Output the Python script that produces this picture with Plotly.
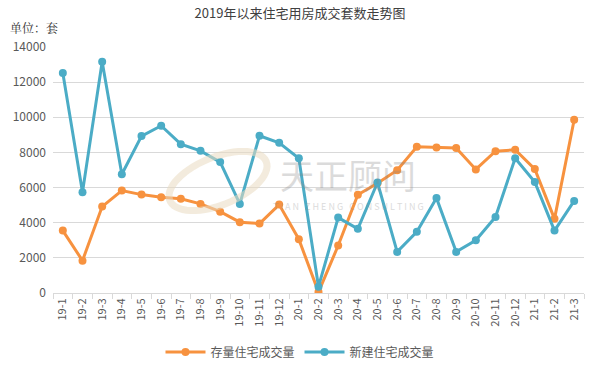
import numpy as np
import plotly.graph_objects as go

months = ["19-1","19-2","19-3","19-4","19-5","19-6","19-7","19-8","19-9","19-10","19-11","19-12",
          "20-1","20-2","20-3","20-4","20-5","20-6","20-7","20-8","20-9","20-10","20-11","20-12",
          "21-1","21-2","21-3"]
existing = [3550,1840,4920,5830,5600,5450,5360,5070,4630,4030,3950,5030,
            3060,50,2700,5590,6250,6990,8320,8280,8250,7030,8070,8150,
            7050,4220,9860]
new_build = [12520,5740,13160,6760,8930,9520,8470,8090,7450,5070,8950,8550,
             7670,360,4290,3650,6290,2340,3480,5400,2340,3000,4330,7670,
             6310,3550,5240]

ORANGE = "#F7923F"
BLUE = "#4BACC6"
FONT = "Noto Sans CJK SC"

fig = go.Figure()
fig.add_trace(go.Scatter(x=months, y=existing, name="存量住宅成交量", mode="lines+markers",
                         line=dict(color=ORANGE, width=3), marker=dict(color=ORANGE, size=8)))
fig.add_trace(go.Scatter(x=months, y=new_build, name="新建住宅成交量", mode="lines+markers",
                         line=dict(color=BLUE, width=3), marker=dict(color=BLUE, size=8)))

PW, PH, L, T = 531, 246, 53, 47
def px(x): return (x - L) / PW
def py(y): return (T + PH - y) / PH

fig.update_layout(
    width=600, height=372,
    margin=dict(l=53, r=16, t=47, b=79),
    paper_bgcolor="white", plot_bgcolor="white",
    font=dict(family=FONT, color="#595959", size=12),
    title=dict(text="2019年以来住宅用房成交套数走势图", x=0.5, xanchor="center",
               y=1 - 13/372, yanchor="middle", font=dict(size=13, color="#404040", family=FONT)),
    showlegend=True,
    legend=dict(orientation="h", x=0.5, xanchor="center", xref="container",
                y=1 - 352/372, yanchor="middle", yref="container",
                font=dict(size=12, color="#595959", family=FONT), itemwidth=40,
                tracegroupgap=0),
    xaxis=dict(type="category", range=[-0.5, 26.5], showgrid=False, showline=True,
               linecolor="#D9D9D9", linewidth=1, ticks="outside", tickson="boundaries",
               ticklen=5, tickcolor="#D9D9D9", tickangle=-90, automargin=False,
               tickfont=dict(size=11, color="#595959", family=FONT)),
    yaxis=dict(range=[0, 14000], dtick=2000, showgrid=True, gridcolor="#D9D9D9", gridwidth=1,
               zeroline=False, showline=False, tickformat="d", automargin=False,
               tickfont=dict(size=12, color="#595959", family=FONT), ticks="", ticklabelstandoff=6),
)

fig.add_annotation(text="单位：套", xref="paper", yref="paper", x=px(8), xanchor="left",
                   y=py(27), yanchor="middle", showarrow=False,
                   font=dict(size=12, color="#333333", family="Noto Serif CJK SC, " + FONT))
# watermark
fig.add_annotation(text="天正顾问", xref="paper", yref="paper", x=px(348), xanchor="center",
                   y=py(174), yanchor="middle", showarrow=False, opacity=0.3,
                   font=dict(size=34, color="#8a8a8a", family=FONT))
fig.add_annotation(text="T I A N   Z H E N G   C O N S U L T I N G", xref="paper", yref="paper",
                   x=px(348), xanchor="center",
                   y=py(206), yanchor="middle", showarrow=False, opacity=0.3,
                   font=dict(size=9, color="#8a8a8a", family=FONT))
# logo swoosh (tilted ellipse)
th = np.linspace(0, 2*np.pi, 60)
cx, cy, a, b, rot = 218, 181, 52, 24, np.radians(22)
ex = cx + a*np.cos(th)*np.cos(rot) - b*np.sin(th)*np.sin(rot)
ey = cy - (a*np.cos(th)*np.sin(rot) + b*np.sin(th)*np.cos(rot))
path = "M " + " L ".join(f"{px(x):.4f},{py(y):.4f}" for x, y in zip(ex, ey)) + " Z"
fig.add_shape(type="path", xref="paper", yref="paper", path=path,
              line=dict(color="#EADCC2", width=7), opacity=0.55)

fig.write_html("out.html", config={"displayModeBar": False},
               post_script="document.body.style.margin='0';")
